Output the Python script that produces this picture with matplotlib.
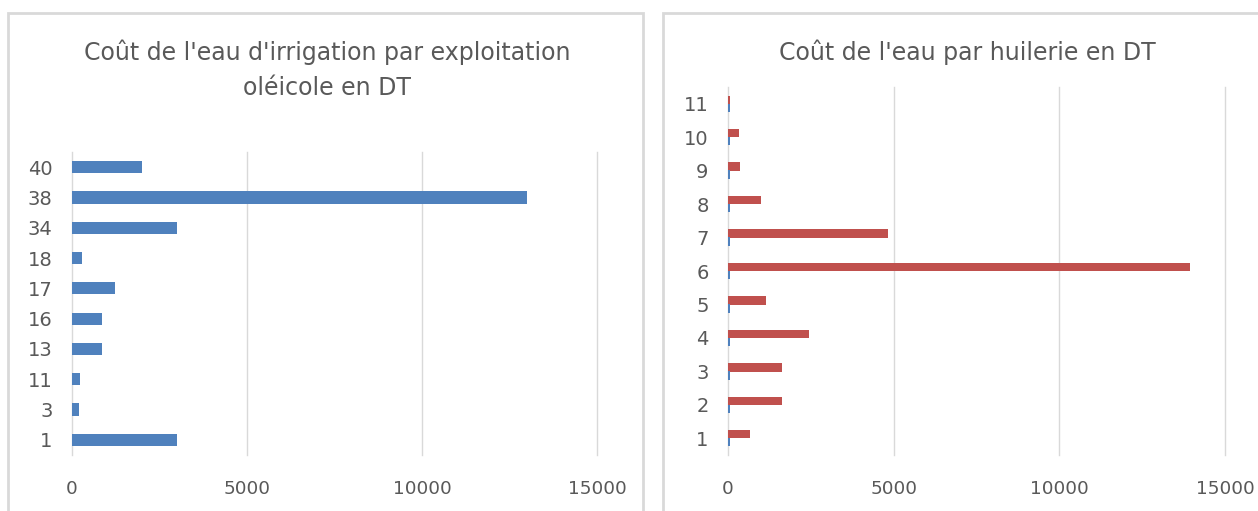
import matplotlib.pyplot as plt
import numpy as np
from matplotlib.patches import Rectangle

# left chart: irrigation water cost per olive farm
farms = ['1', '3', '11', '13', '16', '17', '18', '34', '38', '40']
farm_cost = [3000, 200, 230, 850, 850, 1220, 280, 3000, 13000, 2000]

# right chart: water cost per oil mill (two series)
mills = ['1', '2', '3', '4', '5', '6', '7', '8', '9', '10', '11']
mill_small = [50, 50, 50, 50, 50, 50, 50, 50, 50, 50, 50]
mill_cost = [670, 1640, 1640, 2450, 1140, 13950, 4830, 990, 360, 320, 60]

xticks = [0, 5000, 10000, 15000]

BLUE = '#4F81BD'
RED = '#C0504D'
TXT = '#595959'
GRID = '#D9D9D9'

W, H = 1258, 511
fig = plt.figure(figsize=(W / 100, H / 100), dpi=100)


def fx(px):
    return px / W


def fy(py):
    return 1 - py / H


# chart frames
for x0, x1 in [(8, 643), (663, 1270)]:
    fig.patches.append(Rectangle((fx(x0), fy(530)), fx(x1 - x0), (530 - 13) / H,
                                 transform=fig.transFigure, fill=False,
                                 edgecolor=GRID, linewidth=2))


def style(ax, labels):
    for s in ax.spines.values():
        s.set_visible(False)
    ax.set_xlim(0, 15000)
    ax.set_xticks(xticks)
    ax.set_yticks(np.arange(len(labels)))
    ax.set_yticklabels(labels)
    ax.set_ylim(-0.5, len(labels) - 0.5)
    ax.tick_params(length=0, labelsize=13.3, colors=TXT)
    ax.tick_params(axis='y', labelsize=14, pad=14)
    ax.tick_params(axis='x', pad=18)
    ax.grid(axis='x', color=GRID, linewidth=1)
    for gl in ax.xaxis.get_gridlines():
        gl.set_clip_on(False)
    ax.set_axisbelow(True)


ax1 = fig.add_axes([fx(72), fy(455), fx(597 - 72), (455 - 152) / H])
y1 = np.arange(len(farms))
ax1.barh(y1, farm_cost, height=0.4, color=BLUE)
style(ax1, farms)

ax2 = fig.add_axes([fx(728), fy(455), fx(1225 - 728), (455 - 87) / H])
y2 = np.arange(len(mills))
ax2.barh(y2 + 0.12, mill_cost, height=0.25, color=RED)
ax2.barh(y2 - 0.12, mill_small, height=0.25, color=BLUE)
style(ax2, mills)

fig.text(fx(327), fy(52), "Coût de l'eau d'irrigation par exploitation",
         ha='center', va='center', fontsize=17, color=TXT)
fig.text(fx(327), fy(88), "oléicole en DT",
         ha='center', va='center', fontsize=17, color=TXT)
fig.text(fx(967), fy(52), "Coût de l'eau par huilerie en DT",
         ha='center', va='center', fontsize=17, color=TXT)

fig.savefig('out.png', dpi=100)
